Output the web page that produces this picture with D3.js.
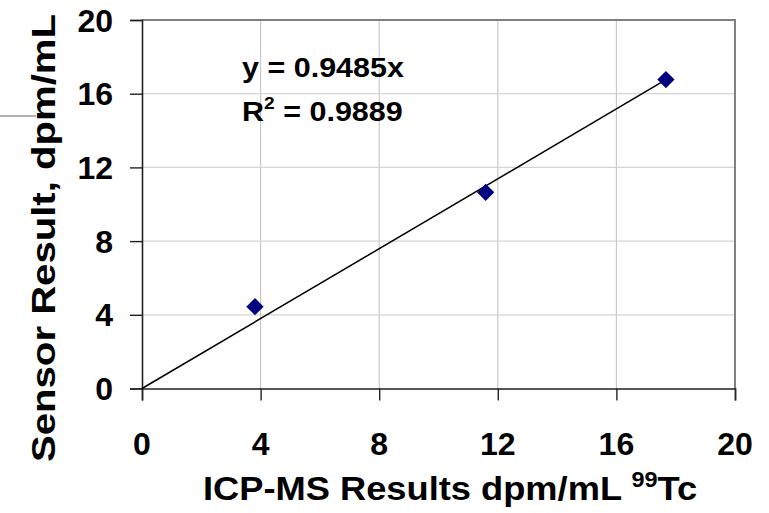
<!DOCTYPE html>
<html>
<head>
<meta charset="utf-8">
<script src="https://cdn.jsdelivr.net/npm/d3@7"></script>
<style>
  body { margin: 0; background: #fff; }
  text { font-family: "Liberation Sans", Arial, sans-serif; font-weight: bold; fill: #000; }
</style>
</head>
<body>
<div id="chart"></div>
<script>
// ICP-MS result vs sensor result (dpm/mL)
var icpms = [3.81, 11.59, 17.67];
var sensor = [4.44, 10.65, 16.77];
var xTicks = [0, 4, 8, 12, 16, 20];
var yTicks = [0, 4, 8, 12, 16, 20];
var slope = 0.9485;
var rSquared = 0.9889;

var width = 769, height = 513;
var margin = {top: 20, right: 34, bottom: 124.5, left: 142};

var svg = d3.select('#chart').append('svg')
  .attr('width', width)
  .attr('height', height);

var x = d3.scaleLinear().domain([0, 20]).range([margin.left, width - margin.right]);
var y = d3.scaleLinear().domain([0, 20]).range([height - margin.bottom, margin.top]);

// stray line at left edge (under the y title)
svg.append('line')
  .attr('x1', 0).attr('x2', 36).attr('y1', 116).attr('y2', 116)
  .attr('stroke', '#999').attr('stroke-width', 1.5);

// grid
svg.append('g').selectAll('line.vg')
  .data(xTicks.slice(1, -1)).enter().append('line')
  .attr('x1', function(d) { return x(d); }).attr('x2', function(d) { return x(d); })
  .attr('y1', y(0)).attr('y2', y(20))
  .attr('stroke', '#c8c8c8').attr('stroke-width', 1.2);
svg.append('g').selectAll('line.hg')
  .data(yTicks.slice(1, -1)).enter().append('line')
  .attr('x1', x(0)).attr('x2', x(20))
  .attr('y1', function(d) { return y(d); }).attr('y2', function(d) { return y(d); })
  .attr('stroke', '#d4d4d4').attr('stroke-width', 1.2);

// top / right frame
svg.append('path')
  .attr('d', 'M' + x(0) + ',' + y(20) + 'H' + x(20) + 'V' + y(0))
  .attr('fill', 'none').attr('stroke', '#808080').attr('stroke-width', 2);

// axes
var xAxis = d3.axisBottom(x).tickValues(xTicks).tickSize(12).tickFormat('');
var yAxis = d3.axisLeft(y).tickValues(yTicks).tickSize(12).tickFormat('');

svg.append('g')
  .attr('transform', 'translate(0,' + y(0) + ')')
  .call(xAxis)
  .call(function(g) {
    g.select('.domain').attr('stroke', '#222').attr('stroke-width', 1.6);
    g.selectAll('.tick line').attr('stroke', '#222').attr('stroke-width', 1.4);
  });

svg.append('g')
  .attr('transform', 'translate(' + x(0) + ',0)')
  .call(yAxis)
  .call(function(g) {
    g.select('.domain').attr('stroke', '#222').attr('stroke-width', 1.6);
    g.selectAll('.tick line').attr('stroke', '#222').attr('stroke-width', 1.4);
  });

// tick labels
svg.append('g').selectAll('text')
  .data(xTicks).enter().append('text')
  .attr('x', function(d) { return x(d); })
  .attr('y', 455)
  .attr('text-anchor', 'middle')
  .style('font-size', '32px')
  .text(function(d) { return d; });

svg.append('g').selectAll('text')
  .data(yTicks).enter().append('text')
  .attr('x', 113)
  .attr('y', function(d) { return y(d) + 11.5; })
  .attr('text-anchor', 'end')
  .style('font-size', '32px')
  .text(function(d) { return d; });

// trendline y = slope * x
var xEnd = d3.max(icpms);
svg.append('line')
  .attr('x1', x(0)).attr('y1', y(0))
  .attr('x2', x(xEnd)).attr('y2', y(slope * xEnd))
  .attr('stroke', '#000').attr('stroke-width', 1.5);

// points
var diamond = d3.symbol().type(d3.symbolDiamond2).size(190);
svg.append('g').selectAll('path')
  .data(icpms).enter().append('path')
  .attr('d', diamond)
  .attr('transform', function(d, i) { return 'translate(' + x(d) + ',' + y(sensor[i]) + ')'; })
  .attr('fill', '#000080');

// equation (glyphs are a bit wider than tall in the source)
var eq = svg.append('g').attr('transform', 'translate(242,0) scale(1.13,1)');
eq.append('text')
  .attr('x', 0).attr('y', 77)
  .style('font-size', '27px')
  .text('y = ' + slope + 'x');

var r2 = eq.append('text')
  .attr('x', 0).attr('y', 121)
  .style('font-size', '27px');
r2.append('tspan').text('R');
r2.append('tspan').attr('dy', -12).style('font-size', '17px').text('2');
r2.append('tspan').attr('dy', 12).text(' = ' + rSquared);

// axis titles
var xt = svg.append('text')
  .attr('transform', 'translate(203,500) scale(1.067,1)')
  .style('font-size', '34px');
xt.append('tspan').text('ICP-MS Results dpm/mL ');
xt.append('tspan').attr('dy', -13).style('font-size', '22px').text('99');
xt.append('tspan').attr('dy', 13).text('Tc');

svg.append('text')
  .attr('transform', 'translate(55,238) rotate(-90)')
  .attr('text-anchor', 'middle')
  .attr('textLength', 448).attr('lengthAdjust', 'spacingAndGlyphs')
  .style('font-size', '34px')
  .text('Sensor Result, dpm/mL');
</script>
</body>
</html>
